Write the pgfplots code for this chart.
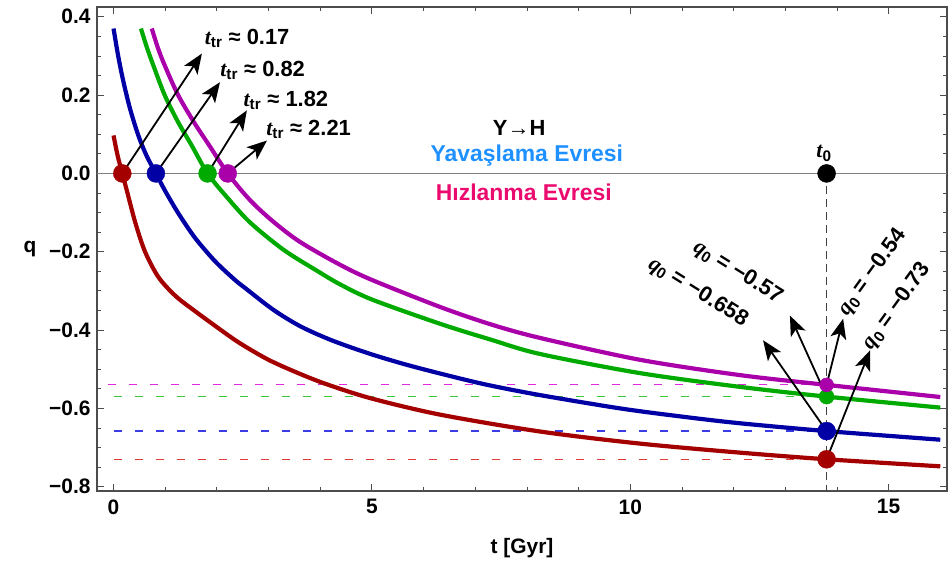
\documentclass[border=0pt]{standalone}
\usepackage{fontspec}
\setmainfont{Liberation Sans}
\newfontfamily\tms{Liberation Serif}
\usepackage{pgfplots}
\pgfplotsset{compat=1.18}
\usetikzlibrary{arrows.meta}
\definecolor{cred}{RGB}{165,0,0}
\definecolor{cblue}{RGB}{0,0,165}
\definecolor{cgreen}{RGB}{0,170,0}
\definecolor{cpurple}{RGB}{170,0,170}
\definecolor{dashred}{RGB}{225,60,60}
\definecolor{dblue}{RGB}{60,60,230}
\definecolor{dgreen}{RGB}{60,200,60}
\definecolor{dpurple}{RGB}{225,40,225}
\definecolor{yav}{RGB}{30,144,255}
\definecolor{hiz}{RGB}{235,10,110}
\newcommand{\tv}{{\tms\bfseries\itshape t}}
\newcommand{\qv}{{\tms\bfseries\itshape q}}
\newcommand{\ttr}[1]{\tv\textsubscript{tr} ≈ #1}
\tikzset{
  annot/.style={font=\fontsize{22}{26}\selectfont\bfseries},
  arr/.style={-{Stealth[length=20bp,width=16bp,inset=5bp]}, line width=1.8bp, black},
}
\begin{document}
\begin{tikzpicture}
\useasboundingbox (-97bp,-79bp) rectangle (852bp,491bp);
\begin{axis}[
  at={(0,0)}, anchor=south west,
  width=850bp, height=484bp, scale only axis,
  xmin=-0.32, xmax=16.13, ymin=-0.811, ymax=0.425,
  xtick={0,5,10,15}, xticklabels={0,5,10,15}, minor x tick num=4,
  ytick={-0.8,-0.6,-0.4,-0.2,0,0.2,0.4},
  yticklabels={−0.8,−0.6,−0.4,−0.2,0.0,0.2,0.4},
  minor y tick num=3,
  tick align=inside,
  major tick length=7bp, minor tick length=4.5bp,
  every tick/.style={draw=black!70, line width=0.8bp},
  axis line style={draw=black!70, line width=1.2bp},
  tick label style={font=\fontsize{21}{25}\selectfont\bfseries},
  xticklabel style={yshift=-5bp},
  yticklabel style={xshift=-3bp},
  xlabel={t [Gyr]}, ylabel={q},
  every axis x label/.style={at={(axis description cs:0.5,0)}, anchor=center, yshift=-57bp, font=\fontsize{21}{25}\selectfont\bfseries},
  every axis y label/.style={at={(axis description cs:0,0.5)}, anchor=center, xshift=-67bp, font=\fontsize{21}{25}\selectfont\bfseries},
]
% reference lines
\addplot[gray, line width=1.3bp] coordinates {(-0.32,0) (16.13,0)};
\addplot[black!75, line width=1.2bp, dash pattern=on 8bp off 5bp] coordinates {(13.8,0) (13.8,-0.811)};
\addplot[dpurple, line width=1.2bp, dash pattern=on 8bp off 13bp] coordinates {(-0.1,-0.54) (13.8,-0.54)};
\addplot[dgreen, line width=1.2bp, dash pattern=on 8bp off 13bp] coordinates {(0,-0.57) (13.8,-0.57)};
\addplot[dblue, line width=1.2bp, dash pattern=on 8bp off 13bp] coordinates {(0,-0.658) (13.8,-0.658)};
\addplot[dashred, line width=1.3bp, dash pattern=on 8bp off 13bp] coordinates {(0,-0.73) (13.8,-0.73)};
% curves
\addplot[cred, line width=4.2bp, smooth, tension=0.5] coordinates {
(0,0.097) (0.08,0.045) (0.17,0.0) (0.26,-0.045) (0.42,-0.125) (0.61,-0.2) (0.87,-0.265)
(1.2,-0.313) (1.58,-0.352) (2.1,-0.402) (2.45,-0.434) (3.0,-0.476) (3.61,-0.512) (4.16,-0.54)
(5.0,-0.575) (6.32,-0.616) (8.25,-0.659) (10.19,-0.69) (12.12,-0.713) (13.8,-0.73) (16.0,-0.748)};
\addplot[cblue, line width=4.2bp, smooth, tension=0.5] coordinates {
(0,0.37) (0.09,0.30) (0.19,0.235) (0.32,0.165) (0.48,0.097) (0.64,0.045) (0.82,0.0) (1.0,-0.045)
(1.26,-0.103) (1.58,-0.165) (1.97,-0.225) (2.35,-0.272) (2.55,-0.293) (3.09,-0.348) (3.61,-0.39)
(4.2,-0.425) (4.9,-0.458) (5.6,-0.486) (6.32,-0.511) (7.2,-0.539) (8.25,-0.566) (9.8,-0.6)
(11.0,-0.621) (12.12,-0.638) (13.8,-0.658) (16.0,-0.68)};
\addplot[cgreen, line width=4.2bp, smooth, tension=0.5] coordinates {
(0.53,0.37) (0.65,0.32) (0.77,0.276) (0.99,0.2) (1.25,0.131) (1.51,0.072) (1.82,0.0) (2.19,-0.06)
(2.64,-0.125) (3.29,-0.195) (3.93,-0.248) (4.38,-0.283) (5.0,-0.322) (6.32,-0.384) (7.29,-0.424)
(8.25,-0.461) (10.19,-0.51) (12.12,-0.545) (13.8,-0.57) (16.0,-0.598)};
\addplot[cpurple, line width=4.2bp, smooth, tension=0.5] coordinates {
(0.74,0.37) (0.86,0.32) (0.99,0.276) (1.25,0.2) (1.57,0.128) (1.86,0.07) (2.21,0.0) (2.64,-0.068)
(3.09,-0.123) (3.61,-0.175) (4.38,-0.233) (5.0,-0.272) (6.32,-0.341) (7.29,-0.385) (8.25,-0.42)
(10.19,-0.476) (12.12,-0.515) (13.8,-0.54) (16.0,-0.571)};
% dots
\addplot[only marks, mark=*, mark size=9bp, cred] coordinates {(0.17,0) (13.8,-0.73)};
\addplot[only marks, mark=*, mark size=9bp, cblue] coordinates {(0.82,0) (13.8,-0.658)};
\addplot[only marks, mark=*, mark size=9bp, cgreen] coordinates {(1.82,0)};
\addplot[only marks, mark=*, mark size=7.5bp, cgreen] coordinates {(13.8,-0.57)};
\addplot[only marks, mark=*, mark size=9bp, cpurple] coordinates {(2.21,0)};
\addplot[only marks, mark=*, mark size=7bp, cpurple] coordinates {(13.8,-0.54)};
\addplot[only marks, mark=*, mark size=9bp, black] coordinates {(13.8,0)};
% arrows
\draw[arr] (axis cs:0.17,0) -- (axis cs:1.71,0.306);
\draw[arr] (axis cs:0.82,0) -- (axis cs:2.06,0.233);
\draw[arr] (axis cs:1.82,0) -- (axis cs:2.58,0.161);
\draw[arr] (axis cs:2.21,0) -- (axis cs:2.97,0.084);
\draw[arr] (axis cs:13.8,-0.658) -- (axis cs:12.57,-0.426);
\draw[arr] (axis cs:13.8,-0.57) -- (axis cs:13.09,-0.363);
\draw[arr] (axis cs:13.8,-0.54) -- (axis cs:14.12,-0.371);
\draw[arr] (axis cs:13.8,-0.73) -- (axis cs:14.64,-0.452);
% labels
\node[annot, anchor=west] at (axis cs:1.70,0.345) {\ttr{0.17}};
\node[annot, anchor=west] at (axis cs:2.0,0.263) {\ttr{0.82}};
\node[annot, anchor=west] at (axis cs:2.45,0.186) {\ttr{1.82}};
\node[annot, anchor=west] at (axis cs:2.89,0.112) {\ttr{2.21}};
\node[annot] at (axis cs:13.75,0.051) {\tv\textsubscript{0}};
\node[annot] at (axis cs:7.85,0.115) {Y→H};
\node[annot, text=yav, font=\fontsize{23}{27}\selectfont\bfseries] at (axis cs:8.0,0.046) {Yavaşlama Evresi};
\node[annot, text=hiz, font=\fontsize{23}{27}\selectfont\bfseries] at (axis cs:7.94,-0.0485) {Hızlanma Evresi};
\node[annot, rotate=-32] at (axis cs:11.31,-0.304) {\qv\textsubscript{0} = −0.658};
\node[annot, rotate=-32] at (axis cs:12.08,-0.253) {\qv\textsubscript{0} = −0.57};
\node[annot, rotate=54] at (axis cs:14.69,-0.253) {\qv\textsubscript{0} = −0.54};
\node[annot, rotate=54] at (axis cs:15.16,-0.34) {\qv\textsubscript{0} = −0.73};
\end{axis}
\end{tikzpicture}
\end{document}
